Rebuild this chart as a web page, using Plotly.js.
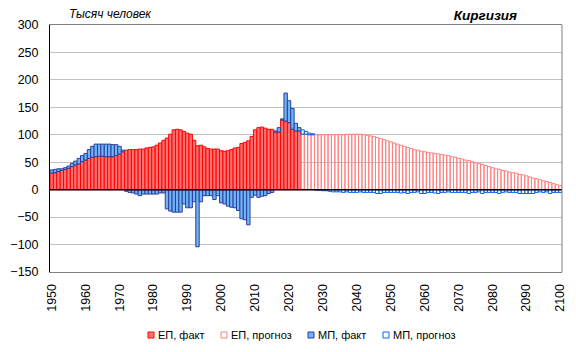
<!DOCTYPE html>
<html>
<head>
<meta charset="utf-8">
<script src="https://cdn.plot.ly/plotly-3.0.1.min.js"></script>
<style>html,body{margin:0;padding:0;background:#fff;}#chart{width:576px;height:352px;}</style>
</head>
<body>
<div id="chart"></div>
<script>
// ---- data (thousand persons) ----
const factStart = 1950, factEnd = 2023, fcStart = 2024, fcEnd = 2100;

// Natural increase (ЕП), fact 1950-2023
const epFact = [
  30, 31, 33, 35, 37, 39, 42, 45, 47, 51,
  54, 57, 59, 60, 61, 61, 60, 60, 60, 62,
  65, 69, 72, 73, 73, 73, 74, 74, 76, 77,
  78, 81, 85, 90, 94, 101, 109, 110, 109, 106,
  103, 101, 90, 80, 81, 78, 75, 74, 74, 74,
  71, 70, 71, 73, 76, 77, 84, 86, 89, 97,
  109, 113, 114, 112, 110, 110, 105, 105, 127, 125,
  122, 110, 107, 107
];
// Net migration (МП), fact 1950-2023
const mpFact = [
  6, 6, 5, 3, 3, 4, 6, 7, 10, 11,
  12, 16, 20, 23, 22, 22, 23, 23, 22, 20,
  14, 3, -3, -5, -6, -8, -11, -8, -8, -8,
  -8, -8, -6, -6, -35, -39, -41, -41, -41, -26,
  -33, -33, -22, -104, -22, -11, -11, -11, -18, -11,
  -24, -26, -30, -32, -33, -38, -53, -55, -64, -14,
  -10, -14, -12, -11, -7, -5, 2, 8, 2, 51,
  40, 38, 14, 6
];
// Natural increase (ЕП), forecast 2024-2100
const epForecast = [
  101, 101, 100, 100, 100, 100, 100, 100, 100, 100, 100, 100, 100,
  101, 101, 101, 101, 101,
  100, 99, 98, 97, 95, 93, 91, 89, 87, 85,
  83, 81, 79, 77, 75, 73, 72, 70, 69, 68,
  67, 66, 65, 64, 63, 62, 60, 59, 57, 56,
  54, 53, 51, 49, 48, 46, 44, 42, 40, 38,
  37, 35, 34, 32, 31, 30, 28, 27, 25, 23,
  21, 20, 18, 16, 15, 13, 11, 9, 7
];
// Net migration (МП), forecast 2024-2100
const mpForecast = [
  8, 5, 3, 2, -1, -1, -2, -2, -3, -4,
  -4, -4, -5, -4, -5, -5, -5, -4, -5, -5,
  -5, -5, -7, -7, -5, -5, -5, -5, -5, -6,
  -5, -7, -5, -5, -4, -7, -7, -5, -5, -6,
  -7, -5, -5, -4, -5, -5, -5, -5, -5, -7,
  -5, -5, -4, -7, -5, -5, -5, -5, -7, -5,
  -4, -5, -5, -5, -7, -7, -7, -7, -7, -5,
  -4, -5, -4, -7, -5, -5, -5
];
const seriesNames = ["ЕП, факт", "ЕП, прогноз", "МП, факт", "МП, прогноз"];
const xTickVals = [1950, 1960, 1970, 1980, 1990, 2000, 2010, 2020, 2030, 2040, 2050, 2060, 2070, 2080, 2090, 2100];
const yTickVals = [-150, -100, -50, 0, 50, 100, 150, 200, 250, 300];
const unitLabel = "Тысяч человек";
const countryLabel = "Киргизия";

// ---- build ----
const yearsFact = [], yearsFc = [];
for (let y = factStart; y <= factEnd; y++) yearsFact.push(y);
for (let y = fcStart; y <= fcEnd; y++) yearsFc.push(y);

const styles = [
  {fill: "#ff7373", line: "#ff0000"},
  {fill: "rgba(0,0,0,0)", line: "#ff8080"},
  {fill: "#6cb6f5", line: "#2d3c9c"},
  {fill: "rgba(0,0,0,0)", line: "#0a64f0"}
];
const xs = [yearsFact, yearsFc, yearsFact, yearsFc];
const ys = [epFact, epForecast, mpFact, mpForecast];
const traces = ys.map((v, i) => ({
  type: "bar", x: xs[i], y: v, name: seriesNames[i],
  marker: {color: styles[i].fill, line: {color: styles[i].line, width: 1}},
  hoverinfo: "skip", showlegend: false
}));

// geometry helpers (plot area: l=50, r=14, t=25, b=80)
const L = 50, R = 14, T = 25, B = 80, W = 576, H = 352;
const pw = W - L - R, ph = H - T - B;
const px = x => (x - L) / pw;
const py = y => (H - B - y) / ph;

const shapes = [
  {type: "line", xref: "paper", yref: "y", x0: 0, x1: 1, y0: 0, y1: 0, line: {color: "#000", width: 1.5}, layer: "above"},
  {type: "line", xref: "paper", yref: "paper", x0: 1, x1: 1, y0: 0, y1: 1, line: {color: "#808080", width: 1}, layer: "above"}
];
const annotations = [
  {text: unitLabel, xref: "paper", yref: "paper", x: px(67), y: py(14), xanchor: "left", yanchor: "middle",
   showarrow: false, font: {family: "Liberation Sans, Arial", size: 12, color: "#000", style: "italic"}}
];
// legend
const legX = [148, 221, 308, 383];
legX.forEach((lx, i) => {
  shapes.push({type: "rect", xref: "paper", yref: "paper", x0: px(lx), x1: px(lx + 6), y0: py(338), y1: py(332),
    fillcolor: i % 2 === 0 ? styles[i].fill : "#ffffff", line: {color: styles[i].line, width: 1}});
  annotations.push({text: seriesNames[i], xref: "paper", yref: "paper", x: px(lx + 8), y: py(335),
    xanchor: "left", yanchor: "middle", showarrow: false,
    font: {family: "Liberation Sans, Arial", size: 11, color: "#000"}});
});

const layout = {
  width: W, height: H,
  margin: {l: L, r: R, t: T, b: B, pad: 0},
  paper_bgcolor: "#fff", plot_bgcolor: "#fff",
  barmode: "relative", bargap: 0,
  showlegend: false,
  title: {text: "<b><i>" + countryLabel + "</i></b>", xref: "paper", x: px(517), xanchor: "right",
          yref: "container", y: 1 - 15 / H, yanchor: "middle",
          font: {family: "Liberation Sans, Arial", size: 13.5, color: "#000"}},
  xaxis: {
    range: [1949.5, 2100.5], tickmode: "array", tickvals: xTickVals, ticktext: xTickVals.map(String),
    tickangle: -90, showgrid: false, zeroline: false, ticks: "", ticklabelstandoff: 6,
    showline: true, mirror: true, linecolor: "#808080", linewidth: 1,
    tickfont: {family: "Liberation Sans, Arial", size: 12.5, color: "#000"}
  },
  yaxis: {
    range: [-150, 300], tickmode: "array", tickvals: yTickVals, ticks: "", ticklabelstandoff: 8,
    showgrid: true, gridcolor: "#c0c0c0", gridwidth: 1, zeroline: false,
    showline: true, linecolor: "#000", linewidth: 1,
    tickfont: {family: "Liberation Sans, Arial", size: 12.5, color: "#000"}
  },
  shapes: shapes, annotations: annotations
};
Plotly.newPlot("chart", traces, layout, {staticPlot: true, displayModeBar: false});
</script>
</body>
</html>
